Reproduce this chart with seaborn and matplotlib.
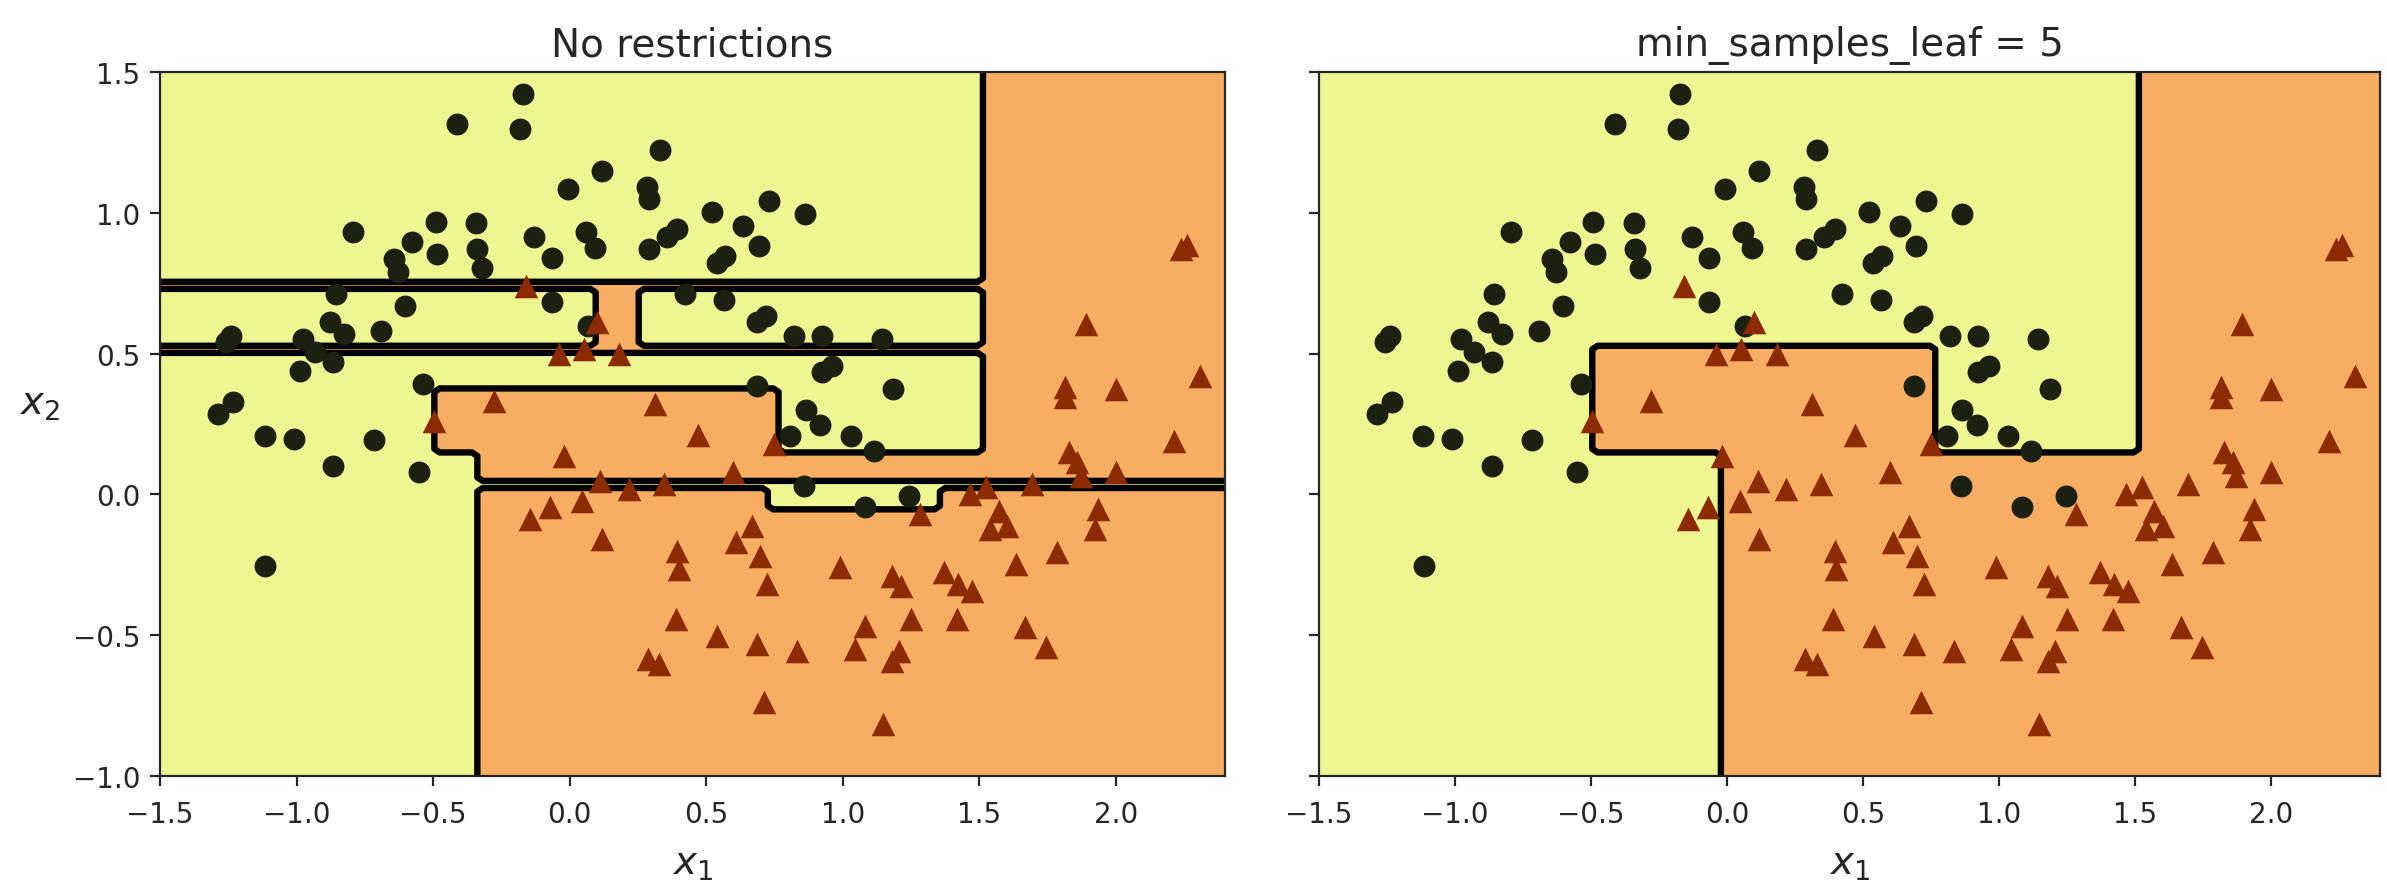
import numpy as np
import pandas as pd
import matplotlib
matplotlib.use("Agg")
import matplotlib.pyplot as plt
import seaborn as sns

# ---------------- data ----------------
circle_x1 = [-0.172, -0.413, -0.180, 0.331, 0.119, -0.006, 0.283, 0.290,
             -0.793, -0.491, -0.577, -0.642, -0.629, -0.485, -0.343, -0.340,
             -0.321, -0.130, -0.065, 0.060, 0.093, 0.290, 0.355, 0.395,
             0.421, -0.065, -0.603, -0.855, -0.879, -0.826, -0.692, -0.977,
             -0.931, -0.865, -0.988, -1.259, -1.240, -0.537, -1.233, -1.286,
             0.066, -1.117, -1.010, -0.718, -0.865, -0.550, -1.115, 0.523,
             0.731, 0.862, 0.635, 0.695, 0.538, 0.570, 0.567, 0.718,
             0.686, 0.821, 0.923, 1.144, 0.962, 0.923, 1.186, 0.686,
             0.865, 0.917, 0.808, 1.032, 1.116, 0.859, 1.083, 1.244]
circle_x2 = [1.422, 1.315, 1.298, 1.224, 1.150, 1.085, 1.091, 1.049,
             0.931, 0.966, 0.898, 0.836, 0.789, 0.854, 0.964, 0.871,
             0.803, 0.913, 0.838, 0.931, 0.874, 0.871, 0.913, 0.942,
             0.712, 0.684, 0.670, 0.712, 0.611, 0.570, 0.581, 0.552,
             0.504, 0.469, 0.439, 0.540, 0.564, 0.392, 0.327, 0.286,
             0.599, 0.209, 0.197, 0.194, 0.100, 0.081, -0.256, 1.004,
             1.043, 0.996, 0.954, 0.883, 0.822, 0.848, 0.692, 0.635,
             0.611, 0.564, 0.564, 0.552, 0.457, 0.434, 0.374, 0.386,
             0.298, 0.245, 0.206, 0.206, 0.155, 0.031, -0.046, -0.005]

triangle_x1 = [-0.159, 0.099, -0.039, 0.053, 0.182, -0.278, 0.313, -0.498,
               0.470, 2.240, 2.260, 1.891, 1.814, 1.814, 2.000, 2.308,
               0.750, 2.212, -0.019, 0.112, 0.217, 0.345, 0.047, -0.071,
               -0.144, 0.119, 0.395, 0.401, 0.388, 0.287, 0.329, 0.600,
               1.827, 1.859, 1.872, 2.000, 1.695, 1.526, 1.468, 1.282,
               1.571, 1.603, 1.539, 1.936, 1.923, 0.667, 0.609, 0.699,
               0.724, 0.990, 1.180, 1.212, 1.372, 1.423, 1.475, 1.635,
               1.785, 0.539, 0.686, 0.833, 1.083, 1.045, 1.205, 1.180,
               1.250, 1.417, 1.667, 1.744, 0.712, 1.147]
triangle_x2 = [0.741, 0.611, 0.499, 0.516, 0.499, 0.333, 0.321, 0.260,
               0.210, 0.870, 0.885, 0.605, 0.380, 0.345, 0.374, 0.422,
               0.179, 0.191, 0.138, 0.049, 0.019, 0.037, -0.022, -0.046,
               -0.087, -0.158, -0.200, -0.265, -0.442, -0.584, -0.602, 0.078,
               0.149, 0.114, 0.067, 0.078, 0.037, 0.025, 0.001, -0.069,
               -0.058, -0.111, -0.123, -0.052, -0.123, -0.111, -0.170, -0.217,
               -0.318, -0.259, -0.288, -0.324, -0.277, -0.318, -0.342, -0.247,
               -0.206, -0.502, -0.531, -0.555, -0.466, -0.549, -0.555, -0.590,
               -0.442, -0.442, -0.472, -0.543, -0.738, -0.815]

# decision regions (leaf rectangles): x1 range, x2 range, predicted class
# later rectangles override earlier ones; background is class 0
left_x1_lo = [1.52, -1.50, -1.50, 0.10, -0.49, -0.33, -0.33, 0.72]
left_x1_hi = [2.40, 1.52, 1.52, 0.25, 0.75, 2.40, 2.40, 1.37]
left_x2_lo = [0.05, 0.735, 0.51, 0.52, 0.15, 0.05, -1.00, -0.06]
left_x2_hi = [1.50, 0.752, 0.52, 0.74, 0.374, 0.15, 0.02, 0.02]
left_cls = [1, 1, 1, 1, 1, 1, 1, 0]

right_x1_lo = [1.52, -0.01, -0.50]
right_x1_hi = [2.40, 2.40, 0.75]
right_x2_lo = [0.15, -1.00, 0.15]
right_x2_hi = [1.50, 0.15, 0.525]
right_cls = [1, 1, 1]

titles = ["No restrictions", "min_samples_leaf = 5"]
axes_limits = [-1.5, 2.4, -1.0, 1.5]

# ---------------- styling ----------------
sns.set_style("ticks")
plt.rcParams["font.family"] = ["DejaVu Sans"]
plt.rcParams["mathtext.fontset"] = "dejavusans"

yellow = "#edf690"
orange = "#f7ad62"
circle_color = "#1b2011"
triangle_color = "#8c2a02"

W, H, DPI = 2387, 895, 200
fig = plt.figure(figsize=(W / DPI, H / DPI), dpi=DPI)
bottom = 1 - 777 / H
height = 704 / H
ax1 = fig.add_axes([160 / W, bottom, 1065 / W, height])
ax2 = fig.add_axes([1319 / W, bottom, 1061 / W, height], sharey=ax1)

circles = pd.DataFrame({"x1": circle_x1, "x2": circle_x2})
triangles = pd.DataFrame({"x1": triangle_x1, "x2": triangle_x2})

g1, g2 = np.meshgrid(np.linspace(axes_limits[0], axes_limits[1], 100),
                     np.linspace(axes_limits[2], axes_limits[3], 100))


def predict(lo1, hi1, lo2, hi2, cls):
    pred = np.zeros_like(g1)
    for a, b, c, d, k in zip(lo1, hi1, lo2, hi2, cls):
        mask = (g1 >= a) & (g1 <= b) & (g2 >= c) & (g2 <= d)
        pred[mask] = k
    return pred


preds = [predict(left_x1_lo, left_x1_hi, left_x2_lo, left_x2_hi, left_cls),
         predict(right_x1_lo, right_x1_hi, right_x2_lo, right_x2_hi, right_cls)]

for ax, pred, title in zip([ax1, ax2], preds, titles):
    ax.contourf(g1, g2, pred, levels=[-0.5, 0.5, 1.5], colors=[yellow, orange])
    ax.contour(g1, g2, pred, levels=[0.5], colors="black", linewidths=2.3)
    sns.scatterplot(data=circles, x="x1", y="x2", marker="o", color=circle_color,
                    s=62, linewidth=0, ax=ax, zorder=3)
    sns.scatterplot(data=triangles, x="x1", y="x2", marker="^", color=triangle_color,
                    s=72, linewidth=0, ax=ax, zorder=3)
    ax.set_xlim(axes_limits[0], axes_limits[1])
    ax.set_ylim(axes_limits[2], axes_limits[3])
    ax.set_xticks(np.arange(-1.5, 2.01, 0.5))
    ax.set_yticks(np.arange(-1.0, 1.51, 0.5))
    ax.tick_params(labelsize=10)
    ax.tick_params(axis="x", pad=5)
    ax.set_title(title, fontsize=14)
    ax.set_xlabel(r"$x_1$", fontsize=14, labelpad=6)
    ax.set_ylabel("")

ax1.set_ylabel(r"$x_2$", fontsize=14, rotation=0, va="center")
ax1.yaxis.set_label_coords(-0.113, 0.53)
ax2.tick_params(labelleft=False)

fig.savefig("out.png", dpi=DPI)
